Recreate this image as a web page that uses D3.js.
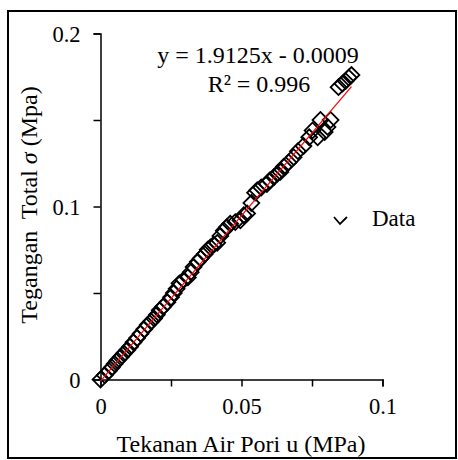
<!DOCTYPE html>
<html>
<head>
<meta charset="utf-8">
<script src="https://cdn.jsdelivr.net/npm/d3@7"></script>
<style>
  html, body { margin: 0; padding: 0; background: #fff; }
  svg { display: block; }
  text { font-family: "Liberation Serif", "Times New Roman", serif; fill: #000; }
</style>
</head>
<body>
<div id="chart"></div>
<script>
// Pore water pressure u (MPa) against total stress sigma (MPa)
const poreX = [
  0.0000, 0.0015, 0.0030, 0.0040, 0.0050, 0.0060, 0.0072, 0.0083, 0.0095, 0.0105,
  0.0117, 0.0130, 0.0142, 0.0155, 0.0167, 0.0180, 0.0190, 0.0200, 0.0210, 0.0222,
  0.0237, 0.0250, 0.0260, 0.0270, 0.0280, 0.0295, 0.0310, 0.0320, 0.0330, 0.0345,
  0.0355, 0.0370, 0.0380, 0.0390, 0.0402, 0.0414, 0.0425, 0.0437, 0.0448, 0.0460,
  0.0478, 0.0496, 0.0508, 0.0520, 0.0535, 0.0548, 0.0556, 0.0570, 0.0590, 0.0600,
  0.0615, 0.0627, 0.0638, 0.0650, 0.0667, 0.0685, 0.0700, 0.0720, 0.0740, 0.0752,
  0.0770, 0.0780, 0.0795, 0.0805, 0.0816, 0.0844, 0.0858, 0.0869, 0.0880, 0.0890
];
const stressY = [
  0.0000, 0.0025, 0.0050, 0.0070, 0.0090, 0.0110, 0.0130, 0.0150, 0.0170, 0.0190,
  0.0215, 0.0240, 0.0265, 0.0290, 0.0315, 0.0335, 0.0353, 0.0375, 0.0400, 0.0420,
  0.0446, 0.0475, 0.0500, 0.0525, 0.0556, 0.0575, 0.0590, 0.0620, 0.0650, 0.0680,
  0.0700, 0.0725, 0.0750, 0.0764, 0.0780, 0.0790, 0.0830, 0.0860, 0.0880, 0.0900,
  0.0910, 0.0920, 0.0950, 0.0960, 0.1020, 0.1080, 0.1094, 0.1110, 0.1130, 0.1150,
  0.1170, 0.1190, 0.1200, 0.1230, 0.1255, 0.1285, 0.1320, 0.1350, 0.1400, 0.1440,
  0.1400, 0.1500, 0.1430, 0.1460, 0.1500, 0.1690, 0.1710, 0.1725, 0.1745, 0.1760
];

// Linear trend coefficients
const slope = 1.9125;
const intercept = -0.0009;
const rSquared = 0.996;

const xTicks = [0, 0.025, 0.05, 0.075, 0.1];
const xTickLabels = ["0", "", "0.05", "", "0.1"];
const yTicks = [0, 0.05, 0.1, 0.15, 0.2];
const yTickLabels = ["0", "", "0.1", "", "0.2"];

const xTitle = "Tekanan Air Pori u (MPa)";
const legendLabel = "Data";

const W = 458, H = 460;
const svg = d3.select("#chart").append("svg")
  .attr("width", W).attr("height", H);

// Outer frame
svg.append("rect")
  .attr("x", 8).attr("y", 11).attr("width", 448).attr("height", 447)
  .attr("fill", "none").attr("stroke", "#000").attr("stroke-width", 2);

const x = d3.scaleLinear().domain([0, 0.1]).range([100.5, 382.5]);
const y = d3.scaleLinear().domain([0, 0.2]).range([379.5, 33.5]);

const tickFont = 22.5;
const textFont = 24;

// Y axis
const yAxis = d3.axisLeft(y).tickValues(yTicks)
  .tickFormat((d, i) => yTickLabels[i]).tickSize(7).tickPadding(13);
const gy = svg.append("g").attr("transform", "translate(100.5,0)").call(yAxis);

// X axis
const xAxis = d3.axisBottom(x).tickValues(xTicks)
  .tickFormat((d, i) => xTickLabels[i]).tickSize(7).tickPadding(12);
const gx = svg.append("g").attr("transform", "translate(0,379.5)").call(xAxis);

[gx, gy].forEach(g => {
  g.select(".domain").attr("stroke", "#000").attr("stroke-width", 1.5);
  g.selectAll(".tick line").attr("stroke", "#000").attr("stroke-width", 1.5);
  g.selectAll(".tick text")
    .style("font-family", '"Liberation Serif", "Times New Roman", serif')
    .style("font-size", tickFont + "px").attr("fill", "#000");
});
gy.selectAll(".tick text").attr("dy", "0.35em");

// Axis titles
svg.append("text")
  .attr("x", 241).attr("y", 452)
  .attr("text-anchor", "middle")
  .style("font-size", textFont + "px")
  .text(xTitle);

const yTitle = svg.append("text")
  .attr("transform", "translate(37,205) rotate(-90)")
  .attr("text-anchor", "middle")
  .style("font-size", textFont + "px")
  .style("white-space", "pre");
yTitle.append("tspan").text("Tegangan  Total ");
yTitle.append("tspan").style("font-style", "italic").text("σ");
yTitle.append("tspan").text(" (Mpa)");

// Markers: hollow diamonds
const points = poreX.map((px, i) => ({ u: px, s: stressY[i] }));
const diamond = d3.symbol().type(d3.symbolSquare).size(125);
svg.append("g").selectAll("path").data(points).join("path")
  .attr("d", diamond)
  .attr("transform", d => `translate(${x(d.u)},${y(d.s)}) rotate(45)`)
  .attr("fill", "none").attr("stroke", "#000").attr("stroke-width", 1.8);

// Trend line over the data range
const xMax = d3.max(poreX);
const trend = [0, xMax].map(u => ({ u, s: slope * u + intercept }));
svg.append("path")
  .datum(trend)
  .attr("d", d3.line().x(d => x(d.u)).y(d => y(d.s)))
  .attr("stroke", "#ff0000").attr("stroke-width", 1.2).attr("fill", "none");

// Equation label
const eq = svg.append("g").style("font-size", textFont + "px");
eq.append("text").attr("x", 258).attr("y", 63).attr("text-anchor", "middle")
  .text(`y = ${slope}x - ${Math.abs(intercept).toFixed(4)}`);
eq.append("text").attr("x", 259).attr("y", 92).attr("text-anchor", "middle")
  .text(`R² = ${rSquared}`);

// Legend
const lg = svg.append("g");
lg.append("path")
  .attr("d", "M334,217 L340,224 L347,217")
  .attr("fill", "none").attr("stroke", "#000").attr("stroke-width", 1.8);
lg.append("text").attr("x", 372).attr("y", 226)
  .style("font-size", "23px").text(legendLabel);
</script>
</body>
</html>
